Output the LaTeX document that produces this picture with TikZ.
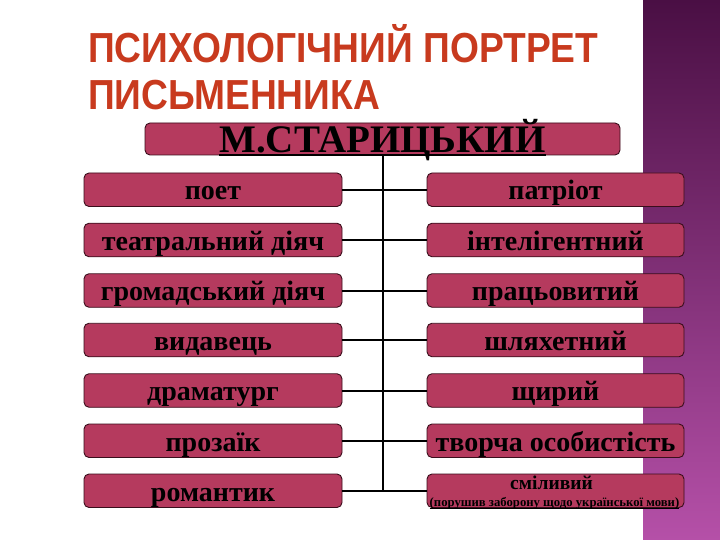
\documentclass[tikz,border=0pt]{standalone}
\usepackage{fontspec}
\setmainfont{Liberation Serif}
\newfontfamily\titlefont{Liberation Sans}
\definecolor{boxfill}{HTML}{B53A5E}
\definecolor{boxline}{HTML}{3A0E1C}
\definecolor{titlered}{HTML}{C83A1E}
\definecolor{stripTop}{HTML}{4A0F44}
\definecolor{stripBot}{HTML}{B550A8}
\newcommand{\ulx}[2][1.6pt]{\setbox0\hbox{#2}\rlap{\rule[-3pt]{\wd0}{#1}}\box0}
\begin{document}
\begin{tikzpicture}[x=1pt,y=-1pt,
  cbox/.style={draw=boxline, line width=0.9pt, fill=boxfill, rounded corners=5pt,
    inner sep=0pt, minimum width=258pt, minimum height=33.5pt,
    text height=27pt, text depth=6.5pt, font=\bfseries\fontsize{28}{28}\selectfont},
  link/.style={line width=2pt, black},
  ttl/.style={anchor=base west, inner sep=0pt, text=titlered, draw=none,
    font=\titlefont\bfseries\fontsize{42}{42}\selectfont}]
\useasboundingbox (0,0) rectangle (720,540);
\fill[white] (0,0) rectangle (720,540);
\shade[top color=stripTop, bottom color=stripBot] (643,0) rectangle (720,540);

\node[ttl] (t1) at (88,63) {\scalebox{0.885}[1]{ПСИХОЛОГІЧНИЙ ПОРТРЕТ}};
\node[ttl] (t2) at (88,110) {\scalebox{0.885}[1]{ПИСЬМЕННИКА}};

\node[cbox, minimum width=475pt, minimum height=32pt, text height=30pt, text depth=2pt,
  font=\bfseries\fontsize{39}{39}\selectfont] (top) at (382.5,139) {\ulx[1.8pt]{М.СТАРИЦЬКИЙ}};

\node[cbox] (l1) at (213,189.75) {поет};
\node[cbox] (l2) at (213,240) {театральний діяч};
\node[cbox] (l3) at (213,290.5) {громадський діяч};
\node[cbox] (l4) at (213,340) {видавець};
\node[cbox] (l5) at (213,390.5) {драматург};
\node[cbox] (l6) at (213,440.75) {прозаїк};
\node[cbox] (l7) at (213,490.75) {романтик};

\node[cbox, minimum width=257pt] (r1) at (555.5,189.75) {патріот};
\node[cbox, minimum width=257pt] (r2) at (555.5,240) {інтелігентний};
\node[cbox, minimum width=257pt] (r3) at (555.5,290.5) {працьовитий};
\node[cbox, minimum width=257pt] (r4) at (555.5,340) {шляхетний};
\node[cbox, minimum width=257pt] (r5) at (555.5,390.5) {щирий};
\node[cbox, minimum width=257pt] (r6) at (555.5,440.75) {творча особистість};
\node[cbox, minimum width=257pt] (r7) at (555.5,490.75) {};
\node[anchor=base, inner sep=0pt, font=\bfseries\fontsize{19.5}{19.5}\selectfont]
  (r7a) at ([xshift=-4pt,yshift=1.75pt]r7.center) {сміливий};
\node[anchor=base, inner sep=0pt, font=\bfseries\fontsize{12.7}{12.7}\selectfont]
  (r7b) at ([xshift=-1pt,yshift=-15.25pt]r7.center) {\ulx[0.8pt]{(порушив заборону щодо української мови)}};

\draw[link] (top.south) -- (top.south |- l7.east);
\foreach \i in {1,...,7} { \draw[link] (l\i.east) -- (r\i.west); }
\end{tikzpicture}
\end{document}
